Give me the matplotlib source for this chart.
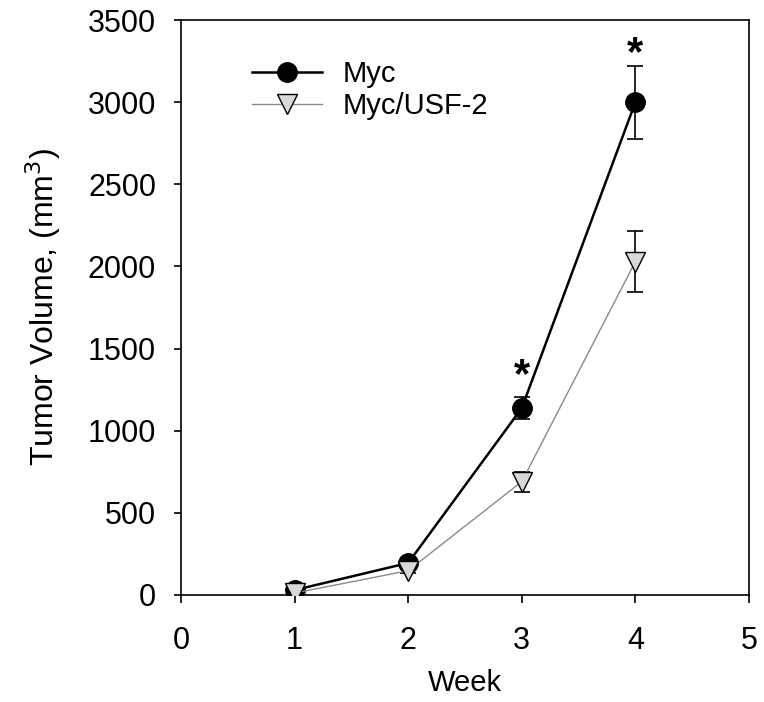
import matplotlib
matplotlib.use("Agg")
import matplotlib.pyplot as plt

# ── Data ──────────────────────────────────────────────────────────────
weeks = [1, 2, 3, 4]
myc_mean = [30, 195, 1138, 3000]
myc_err = [10, 15, 67, 222]
usf_mean = [12, 148, 690, 2030]
usf_err = [8, 12, 60, 188]
star_weeks = [3, 4]
star_y = [1330, 3290]

plt.rcParams['font.family'] = ['Liberation Sans', 'DejaVu Sans']

fig = plt.figure(figsize=(7.64, 7.02), dpi=100)
ax = fig.add_axes([181 / 764, 107 / 702, 568 / 764, 575 / 702])

ax.errorbar(weeks, myc_mean, yerr=myc_err, fmt='o-', color='black',
            mfc='black', mec='black', ms=14, lw=1.8, capsize=6,
            elinewidth=1.2, capthick=1.2, label='Myc', zorder=3)
ax.errorbar(weeks, usf_mean, yerr=usf_err, fmt='v-', color='#8a8a8a',
            mfc='#d8d8d8', mec='black', ms=14, lw=1.0, ecolor='black',
            capsize=6, elinewidth=1.2, capthick=1.2, label='Myc/USF-2',
            zorder=4)

for w, y in zip(star_weeks, star_y):
    ax.text(w, y, '*', ha='center', va='center', fontsize=30,
            fontweight='bold')

ax.set_xlim(0, 5)
ax.set_ylim(0, 3500)
ax.set_xticks(range(0, 6))
ax.set_yticks(range(0, 3501, 500))
ax.tick_params(axis='both', labelsize=22, direction='out', width=1.2)
ax.tick_params(axis='y', length=5, pad=13)
ax.tick_params(axis='x', length=6, pad=16)
for s in ax.spines.values():
    s.set_linewidth(1.2)

ax.set_xlabel('Week', fontsize=21, labelpad=10)
ax.set_ylabel('Tumor Volume, (mm$^3$)', fontsize=23, labelpad=18)

handles, labels = ax.get_legend_handles_labels()
handles = [h[0] for h in handles]
ax.legend(handles, labels, loc='upper left',
          bbox_to_anchor=(252 / 764, 1 - 60 / 702),
          bbox_transform=fig.transFigure, frameon=False, fontsize=21,
          handlelength=2.4, labelspacing=0.15, handletextpad=0.7,
          borderpad=0, borderaxespad=0)

fig.savefig('out.png', dpi=100)
